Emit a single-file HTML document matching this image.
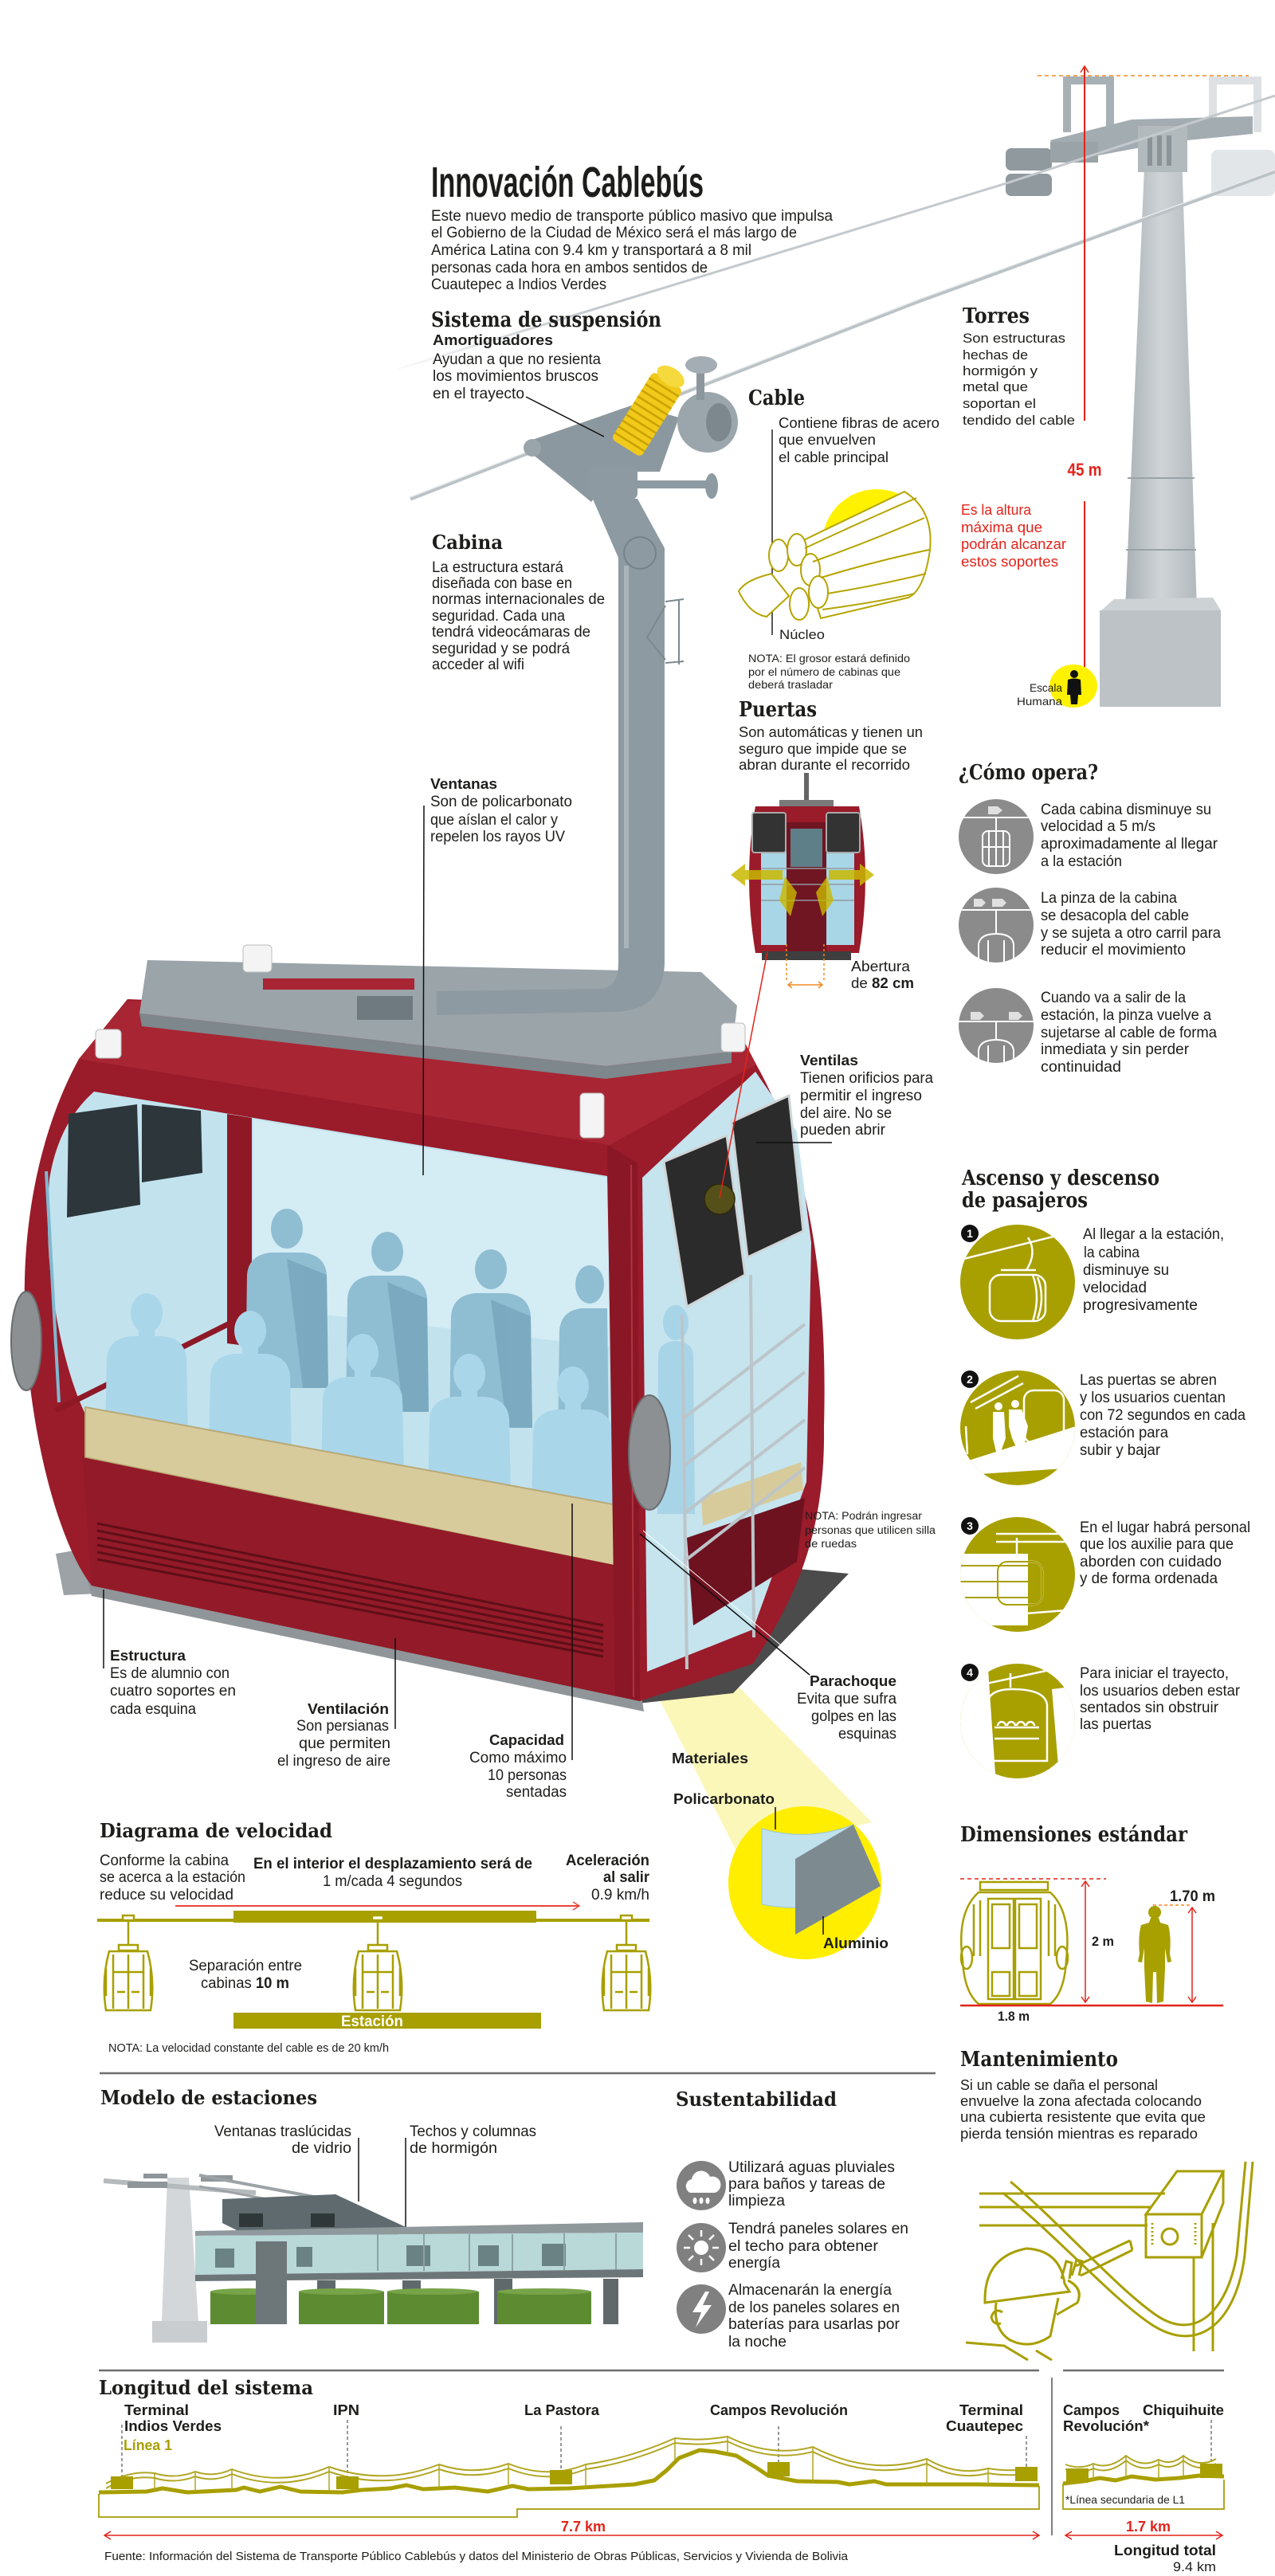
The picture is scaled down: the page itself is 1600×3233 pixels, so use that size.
<!DOCTYPE html>
<html><head><meta charset="utf-8"><style>
html,body{margin:0;padding:0;background:#fff;}
svg{display:block;}
text{font-family:"Liberation Sans","DejaVu Sans",sans-serif;fill:#1d1d1b;}
.s{font-family:"DejaVu Serif","Liberation Serif",serif;font-weight:bold;}
.b{font-weight:bold;}
.r{fill:#e2231a;}
.o{fill:#a89f00;}
</style></head><body>
<svg width="1600" height="3233" viewBox="0 0 1600 3233" xmlns="http://www.w3.org/2000/svg">
<defs>
 <linearGradient id="fa" gradientUnits="userSpaceOnUse" x1="480" y1="0" x2="720" y2="0">
  <stop offset="0" stop-color="#c3c9cc" stop-opacity="0"/><stop offset="1" stop-color="#c3c9cc"/>
 </linearGradient>
 <linearGradient id="col" x1="0" x2="1" y1="0" y2="0">
  <stop offset="0" stop-color="#a9b1b6"/><stop offset="0.5" stop-color="#cfd4d7"/><stop offset="1" stop-color="#b2b9bd"/>
 </linearGradient>
 <clipPath id="co1"><circle cx="1250" cy="1050" r="47"/></clipPath>
 <clipPath id="co2"><circle cx="1250" cy="1161" r="47"/></clipPath>
 <clipPath id="co3"><circle cx="1250" cy="1287" r="47"/></clipPath>
 <clipPath id="as1"><circle cx="1277" cy="1609" r="72"/></clipPath>
 <clipPath id="as2"><circle cx="1277" cy="1792" r="72"/></clipPath>
 <clipPath id="as3"><circle cx="1277" cy="1976" r="72"/></clipPath>
 <clipPath id="as4"><circle cx="1277" cy="2160" r="72"/></clipPath>
</defs>

<!-- ================= TOWER ================= -->
<line x1="1302" y1="95" x2="1567" y2="95" stroke="#f08a24" stroke-width="1.5" stroke-dasharray="5,4"/>
<path d="M1334,96 h64 v70 h-10 v-60 h-44 v60 h-10z" fill="#a7b0b5"/>
<path d="M1517,96 h66 v70 h-10 v-60 h-46 v60 h-10z" fill="#dde1e3"/>
<polygon points="1318,176 1420,150 1572,146 1572,168 1470,178 1330,204" fill="#a3acb1"/>
<rect x="1520" y="188" width="80" height="58" rx="8" fill="#e3e6e8"/>
<polygon points="1438,165 1482,165 1502,765 1412,765" fill="url(#col)"/>
<rect x="1428" y="158" width="62" height="58" fill="#b3babe"/>
<rect x="1440" y="170" width="6" height="38" fill="#8a9398"/>
<rect x="1452" y="170" width="6" height="38" fill="#8a9398"/>
<rect x="1464" y="170" width="6" height="38" fill="#8a9398"/>
<line x1="1415" y1="600" x2="1499" y2="600" stroke="#9aa3a8" stroke-width="2"/>
<line x1="1413" y1="690" x2="1501" y2="690" stroke="#9aa3a8" stroke-width="2"/>
<polygon points="1380,768 1398,752 1522,750 1532,766" fill="#cdd2d5"/>
<rect x="1380" y="766" width="152" height="121" fill="#bcc2c6"/>
<rect x="1262" y="186" width="58" height="28" rx="7" fill="#8f999e"/>
<rect x="1262" y="218" width="58" height="28" rx="7" fill="#8f999e"/>
<rect x="1318" y="178" width="60" height="26" fill="#9aa3a8"/>

<!-- cables -->
<path d="M500,463 L1263,230 L1600,120" fill="none" stroke="url(#fa)" stroke-width="3"/>
<path d="M515,626 L1150,379 L1600,215" fill="none" stroke="#bcc3c7" stroke-width="5"/>
<path d="M515,624 L1150,377 L1600,213" fill="none" stroke="#eef1f2" stroke-width="1.2"/>

<!-- 45 m arrow -->
<line x1="1361" y1="84" x2="1361" y2="528" stroke="#e2231a" stroke-width="2"/>
<line x1="1361" y1="629" x2="1361" y2="880" stroke="#e2231a" stroke-width="2"/>
<path d="M1356,91 L1361,83 L1366,91 M1356,873 L1361,881 L1366,873" fill="none" stroke="#e2231a" stroke-width="1.5"/>
<ellipse cx="1347" cy="861" rx="30" ry="27" fill="#fff200"/>
<circle cx="1348" cy="846" r="5" fill="#111"/>
<path d="M1340,853 Q1348,850 1356,853 L1357,872 L1353,872 L1352,884 L1344,884 L1343,872 L1339,872 Z" fill="#111"/>

<text x="1208" y="405" font-size="26" class="s" textLength="84" lengthAdjust="spacingAndGlyphs">Torres</text>
<text x="1208" y="430" font-size="17" textLength="129" lengthAdjust="spacingAndGlyphs">Son estructuras</text>
<text x="1208" y="451" font-size="17" textLength="82" lengthAdjust="spacingAndGlyphs">hechas de</text>
<text x="1208" y="471" font-size="17" textLength="94" lengthAdjust="spacingAndGlyphs">hormigón y</text>
<text x="1208" y="491" font-size="17" textLength="82" lengthAdjust="spacingAndGlyphs">metal que</text>
<text x="1208" y="512" font-size="17" textLength="92" lengthAdjust="spacingAndGlyphs">soportan el</text>
<text x="1208" y="533" font-size="17" textLength="141" lengthAdjust="spacingAndGlyphs">tendido del cable</text>
<text x="1361" y="597" font-size="22" class="b r" text-anchor="middle" textLength="43" lengthAdjust="spacingAndGlyphs">45 m</text>
<text x="1206" y="646" font-size="18" class="r" textLength="88" lengthAdjust="spacingAndGlyphs">Es la altura</text>
<text x="1206" y="668" font-size="18" class="r" textLength="102" lengthAdjust="spacingAndGlyphs">máxima que</text>
<text x="1206" y="689" font-size="18" class="r" textLength="132" lengthAdjust="spacingAndGlyphs">podrán alcanzar</text>
<text x="1206" y="711" font-size="18" class="r" textLength="122" lengthAdjust="spacingAndGlyphs">estos soportes</text>
<text x="1333" y="868" font-size="14" text-anchor="end" textLength="41" lengthAdjust="spacingAndGlyphs">Escala</text>
<text x="1333" y="885" font-size="14" text-anchor="end" textLength="57" lengthAdjust="spacingAndGlyphs">Humana</text>

<!-- ================= HEADER ================= -->
<text x="541" y="247" font-size="54" class="b" textLength="342" lengthAdjust="spacingAndGlyphs">Innovación Cablebús</text>
<text x="541" y="277" font-size="19" textLength="504" lengthAdjust="spacingAndGlyphs">Este nuevo medio de transporte público masivo que impulsa</text>
<text x="541" y="298" font-size="19" textLength="459" lengthAdjust="spacingAndGlyphs">el Gobierno de la Ciudad de México será el más largo de</text>
<text x="541" y="320" font-size="19" textLength="402" lengthAdjust="spacingAndGlyphs">América Latina con 9.4 km  y transportará a 8 mil</text>
<text x="541" y="342" font-size="19" textLength="347" lengthAdjust="spacingAndGlyphs">personas cada hora en ambos sentidos de</text>
<text x="541" y="363" font-size="19" textLength="220" lengthAdjust="spacingAndGlyphs">Cuautepec a Indios Verdes</text>

<text x="541" y="410" font-size="26" class="s" textLength="289" lengthAdjust="spacingAndGlyphs">Sistema de suspensión</text>
<text x="543" y="433" font-size="18" class="b" textLength="151" lengthAdjust="spacingAndGlyphs">Amortiguadores</text>
<text x="543" y="457" font-size="19" textLength="211" lengthAdjust="spacingAndGlyphs">Ayudan a que no resienta</text>
<text x="543" y="478" font-size="19" textLength="208" lengthAdjust="spacingAndGlyphs">los movimientos bruscos</text>
<text x="543" y="500" font-size="19" textLength="115" lengthAdjust="spacingAndGlyphs">en el trayecto</text>

<!-- ================= GRIP + ARM ================= -->
<polygon points="668,552 795,508 852,524 828,592 768,592 742,630 708,602 668,570" fill="#8c989f"/>
<circle cx="668" cy="562" r="11" fill="#9aa5ab"/>
<circle cx="888" cy="530" r="38" fill="#9ba6ac"/>
<ellipse cx="902" cy="530" rx="16" ry="24" fill="#7d888e"/>
<rect x="874" y="462" width="10" height="40" fill="#8c979d"/>
<ellipse cx="880" cy="458" rx="20" ry="11" fill="#a3adb3"/>
<g transform="translate(812,520) rotate(32)">
 <rect x="-22" y="-50" width="44" height="100" rx="6" fill="#f0c91a"/>
 <path d="M-22,-40 H22 M-22,-31 H22 M-22,-22 H22 M-22,-13 H22 M-22,-4 H22 M-22,5 H22 M-22,14 H22 M-22,23 H22 M-22,32 H22 M-22,41 H22" stroke="#c9a200" stroke-width="2.5"/>
 <ellipse cx="0" cy="-56" rx="19" ry="11" fill="#f6d93c"/>
</g>
<rect x="740" y="585" width="60" height="42" rx="8" fill="#8e9aa1"/>
<rect x="798" y="603" width="92" height="10" fill="#8e9aa1"/>
<ellipse cx="893" cy="610" rx="8" ry="16" fill="#8e9aa1"/>
<path d="M742,622 L800,626 L834,688 L834,1205 Q834,1268 772,1270 L548,1274 L548,1244 L752,1241 Q776,1240 776,1210 L776,700 Z" fill="#8e9aa1"/>
<line x1="786" y1="710" x2="786" y2="1200" stroke="#a9b4ba" stroke-width="6"/>
<circle cx="803" cy="694" r="20" fill="none" stroke="#76828a" stroke-width="2"/>
<path d="M835,755 L858,752 M835,832 L858,830 M852,752 L852,834 M835,760 L812,800 L835,828" stroke="#7d888e" stroke-width="2" fill="none"/>
<line x1="660" y1="498" x2="758" y2="548" stroke="#111" stroke-width="1.5"/>

<!-- ================= CABLE ================= -->
<text x="939" y="508" font-size="26" class="s" textLength="71" lengthAdjust="spacingAndGlyphs">Cable</text>
<text x="977" y="537" font-size="18" textLength="202" lengthAdjust="spacingAndGlyphs">Contiene fibras de acero</text>
<text x="977" y="558" font-size="18" textLength="122" lengthAdjust="spacingAndGlyphs">que envuelven</text>
<text x="977" y="580" font-size="18" textLength="138" lengthAdjust="spacingAndGlyphs">el cable principal</text>
<line x1="969" y1="539" x2="969" y2="797" stroke="#222" stroke-width="1.5"/>
<circle cx="1100" cy="682" r="68" fill="#fff200"/>
<g fill="#fff" stroke="#b5a400" stroke-width="2">
 <path d="M1000,682 L1135,617 Q1172,640 1167,690 Q1160,740 1140,750 L1030,776 Z"/>
 <path d="M927,742 Q935,728 968,720 L990,748 L962,774 Q940,770 927,742 Z"/>
 <ellipse cx="977" cy="697" rx="12" ry="20"/>
 <ellipse cx="1000" cy="690" rx="12" ry="20"/>
 <ellipse cx="1017" cy="715" rx="12" ry="20"/>
 <ellipse cx="1027" cy="743" rx="12" ry="20"/>
 <ellipse cx="1003" cy="758" rx="12" ry="20"/>
</g>
<path d="M1010,688 Q1080,655 1150,625 M1020,705 Q1090,680 1160,650 M1030,725 Q1095,705 1166,690 M1038,745 Q1100,735 1162,720 M1032,765 Q1100,756 1148,745" fill="none" stroke="#b5a400" stroke-width="2"/>
<text x="978" y="802" font-size="17" textLength="57" lengthAdjust="spacingAndGlyphs">Núcleo</text>
<text x="939" y="831" font-size="13.5" textLength="203" lengthAdjust="spacingAndGlyphs">NOTA: El grosor estará definido</text>
<text x="939" y="848" font-size="13.5" textLength="191" lengthAdjust="spacingAndGlyphs">por el número de cabinas que</text>
<text x="939" y="864" font-size="13.5" textLength="106" lengthAdjust="spacingAndGlyphs">deberá trasladar</text>

<!-- ================= PUERTAS ================= -->
<text x="927" y="899" font-size="26" class="s" textLength="98" lengthAdjust="spacingAndGlyphs">Puertas</text>
<text x="927" y="925" font-size="18" textLength="231" lengthAdjust="spacingAndGlyphs">Son automáticas y tienen un</text>
<text x="927" y="946" font-size="18" textLength="211" lengthAdjust="spacingAndGlyphs">seguro que impide que se</text>
<text x="927" y="966" font-size="18" textLength="215" lengthAdjust="spacingAndGlyphs">abran durante el recorrido</text>
<line x1="1012" y1="970" x2="1012" y2="1008" stroke="#666" stroke-width="6"/>
<rect x="978" y="1004" width="68" height="10" fill="#7a7a7a"/>
<path d="M948,1012 H1078 Q1094,1100 1078,1196 H948 Q932,1100 948,1012 Z" fill="#9a1b2a"/>
<rect x="955" y="1062" width="117" height="124" fill="#a9d6e6"/>
<rect x="987" y="1032" width="50" height="165" fill="#701522"/>
<rect x="992" y="1040" width="40" height="48" fill="#5e7f88"/>
<rect x="944" y="1020" width="42" height="50" rx="3" fill="#333" stroke="#aaa" stroke-width="2"/>
<rect x="1037" y="1020" width="42" height="50" rx="3" fill="#333" stroke="#aaa" stroke-width="2"/>
<path d="M955,1090 H1072 M955,1110 H1072 M955,1130 H1072" stroke="#8f9aa0" stroke-width="1.5"/>
<rect x="956" y="1194" width="112" height="11" fill="#3f3f3f"/>
<polygon points="917,1098 935,1084 935,1092 982,1092 982,1104 935,1104 935,1112" fill="#c9b800" opacity="0.85"/>
<polygon points="1097,1098 1079,1084 1079,1092 1040,1092 1040,1104 1079,1104 1079,1112" fill="#c9b800" opacity="0.85"/>
<polygon points="985,1100 1000,1120 992,1150 978,1130" fill="#c9b800" opacity="0.8"/>
<polygon points="1038,1100 1024,1120 1032,1150 1046,1130" fill="#c9b800" opacity="0.8"/>
<path d="M987,1185 V1232 M1034,1185 V1232" stroke="#f08a24" stroke-width="1.5" stroke-dasharray="3,3"/>
<path d="M989,1236 H1032 M994,1232 L989,1236 L994,1240 M1027,1232 L1032,1236 L1027,1240" stroke="#f08a24" stroke-width="1.5" fill="none"/>
<text x="1068" y="1219" font-size="18" textLength="74" lengthAdjust="spacingAndGlyphs">Abertura</text>
<text x="1068" y="1240" font-size="18" textLength="79" lengthAdjust="spacingAndGlyphs">de <tspan class="b">82 cm</tspan></text>

<!-- ================= CABINA TEXT ================= -->
<text x="542" y="689" font-size="24" class="s" textLength="89" lengthAdjust="spacingAndGlyphs">Cabina</text>
<text x="542" y="718" font-size="19" textLength="165" lengthAdjust="spacingAndGlyphs">La estructura estará</text>
<text x="542" y="738" font-size="19" textLength="176" lengthAdjust="spacingAndGlyphs">diseñada con base en</text>
<text x="542" y="758" font-size="19" textLength="217" lengthAdjust="spacingAndGlyphs">normas internacionales de</text>
<text x="542" y="779" font-size="19" textLength="167" lengthAdjust="spacingAndGlyphs">seguridad. Cada una</text>
<text x="542" y="799" font-size="19" textLength="199" lengthAdjust="spacingAndGlyphs">tendrá videocámaras de</text>
<text x="542" y="820" font-size="19" textLength="173" lengthAdjust="spacingAndGlyphs">seguridad y se podrá</text>
<text x="542" y="840" font-size="19" textLength="116" lengthAdjust="spacingAndGlyphs">acceder al wifi</text>
<text x="540" y="990" font-size="18" class="b" textLength="84" lengthAdjust="spacingAndGlyphs">Ventanas</text>
<text x="540" y="1012" font-size="19" textLength="178" lengthAdjust="spacingAndGlyphs">Son de policarbonato</text>
<text x="540" y="1035" font-size="19" textLength="160" lengthAdjust="spacingAndGlyphs">que aíslan el calor y</text>
<text x="540" y="1056" font-size="19" textLength="169" lengthAdjust="spacingAndGlyphs">repelen los rayos UV</text>

<!-- ================= MAIN CABIN ================= -->
<polygon points="811,2100 920,2110 1094,2287 926,2327" fill="#fbf6b0" opacity="0.9"/>
<polygon points="70,1950 150,1936 172,1998 80,2002" fill="#9ca2a5"/>
<polygon points="800,1950 1065,1975 920,2125 800,2138" fill="#4b4b4b"/>
<polygon points="110,1985 805,2128 808,2148 115,2003" fill="#8f9598"/>
<path d="M99,1329 C68,1385 34,1480 31,1606 C27,1760 68,1930 115,1990 L803,2135 L945,2088 C995,2010 1036,1930 1034,1790 C1038,1640 1024,1470 949,1336 L922,1284 L160,1254 Z" fill="#9a1b2a"/>
<polygon points="160,1256 922,1286 949,1336 765,1437 99,1329" fill="#a82533"/>
<!-- front glass -->
<path d="M118,1370 L762,1476 L770,1900 L108,1777 C80,1720 52,1600 62,1480 C70,1430 90,1395 118,1370 Z" fill="#c2e3ee"/>
<polygon points="318,1405 762,1478 765,1690 318,1640" fill="#d4ecf4"/>
<polygon points="86,1398 172,1386 176,1512 84,1528" fill="#2c363b"/>
<polygon points="178,1386 252,1394 254,1472 178,1484" fill="#2c363b"/>
<polygon points="285,1398 316,1403 316,1690 285,1686" fill="#8e1826"/>
<line x1="70" y1="1770" x2="306" y2="1652" stroke="#8e1826" stroke-width="7"/>
<line x1="58" y1="1470" x2="74" y2="1760" stroke="#7fb9cf" stroke-width="4"/>
<!-- back row passengers -->
<g fill="#8fbdd2">
 <path d="M308,1742 L310,1600 Q312,1575 340,1572 L380,1572 Q408,1575 410,1600 L412,1742 Z"/>
 <ellipse cx="360" cy="1542" rx="20" ry="25"/>
 <path d="M434,1772 L436,1630 Q438,1604 466,1601 L506,1601 Q534,1604 536,1630 L538,1772 Z"/>
 <ellipse cx="486" cy="1571" rx="20" ry="25"/>
 <path d="M564,1792 L566,1652 Q568,1626 596,1623 L636,1623 Q664,1626 666,1652 L668,1792 Z"/>
 <ellipse cx="616" cy="1593" rx="20" ry="25"/>
 <path d="M700,1810 L702,1670 Q704,1645 730,1642 L762,1642 L764,1810 Z"/>
 <ellipse cx="740" cy="1612" rx="18" ry="24"/>
</g>
<g fill="#6f9fb5" opacity="0.6">
 <path d="M360,1580 L410,1600 L412,1742 L380,1742 Z"/>
 <path d="M486,1609 L536,1630 L538,1772 L506,1772 Z"/>
 <path d="M616,1631 L666,1652 L668,1792 L636,1792 Z"/>
</g>
<!-- front row passengers -->
<g fill="#aad6ea">
 <path d="M132,1800 L134,1705 Q136,1680 164,1677 L204,1677 Q232,1680 234,1705 L236,1800 Z"/>
 <rect x="174" y="1662" width="20" height="18"/>
 <ellipse cx="184" cy="1648" rx="20" ry="25"/>
 <path d="M262,1822 L264,1727 Q266,1702 294,1699 L334,1699 Q362,1702 364,1727 L366,1822 Z"/>
 <rect x="304" y="1684" width="20" height="18"/>
 <ellipse cx="314" cy="1670" rx="20" ry="25"/>
 <path d="M403,1850 L405,1756 Q407,1731 435,1728 L475,1728 Q503,1731 505,1756 L507,1850 Z"/>
 <rect x="445" y="1713" width="20" height="18"/>
 <ellipse cx="455" cy="1699" rx="20" ry="25"/>
 <path d="M537,1876 L539,1781 Q541,1756 569,1753 L609,1753 Q637,1756 639,1781 L641,1876 Z"/>
 <rect x="579" y="1738" width="20" height="18"/>
 <ellipse cx="589" cy="1724" rx="20" ry="25"/>
 <path d="M667,1896 L669,1797 Q671,1772 699,1769 L739,1769 Q767,1772 769,1797 L771,1896 Z"/>
 <rect x="709" y="1754" width="20" height="18"/>
 <ellipse cx="719" cy="1740" rx="20" ry="25"/>
</g>
<!-- bench -->
<polygon points="107,1766 796,1893 796,1970 107,1829" fill="#d8cb9b" stroke="#b9a977" stroke-width="2"/>
<!-- lower red panel -->
<polygon points="104,1829 800,1970 803,2135 115,1990" fill="#931a28"/>
<g stroke="#5e0f18" stroke-width="3">
 <line x1="122" y1="1912" x2="757" y2="2040"/>
 <line x1="122" y1="1921" x2="757" y2="2048"/>
 <line x1="122" y1="1930" x2="757" y2="2056"/>
 <line x1="122" y1="1939" x2="757" y2="2064"/>
 <line x1="122" y1="1948" x2="757" y2="2072"/>
 <line x1="122" y1="1957" x2="757" y2="2079"/>
</g>
<polygon points="762,1437 800,1460 803,2135 772,2128" fill="#8a1725"/>
<line x1="792" y1="1462" x2="795" y2="2130" stroke="#b3323f" stroke-width="2"/>
<!-- right end -->
<polygon points="806,1478 948,1345 1000,1420 1018,1560 1012,1860 945,2045 812,2098" fill="#c5e4ee"/>
<polygon points="862,1930 1010,1880 1000,1960 870,2040" fill="#6e1220"/>
<polygon points="880,1880 1005,1835 1008,1870 882,1915" fill="#d8cb9b"/>
<ellipse cx="848" cy="1660" rx="16" ry="22" fill="#a8d4e8"/>
<path d="M825,1900 L826,1700 Q828,1684 848,1683 Q868,1684 870,1700 L872,1900 Z" fill="#a8d4e8"/>
<polygon points="833,1458 912,1425 935,1600 862,1640" fill="#2b2b2b" stroke="#cfd4d6" stroke-width="3"/>
<polygon points="918,1408 990,1375 1008,1545 938,1578" fill="#2b2b2b" stroke="#cfd4d6" stroke-width="3"/>
<g stroke="#bcc5c9" stroke-width="4" fill="none">
 <line x1="858" y1="1960" x2="1010" y2="1842"/>
 <line x1="858" y1="1900" x2="1010" y2="1782"/>
 <line x1="858" y1="1840" x2="1010" y2="1722"/>
 <line x1="858" y1="1780" x2="1010" y2="1662"/>
 <line x1="856" y1="1650" x2="862" y2="2095"/>
 <line x1="942" y1="1600" x2="946" y2="2055"/>
</g>
<circle cx="903" cy="1505" r="19" fill="#55501a" stroke="#2d2a0c" stroke-width="1.5"/>
<ellipse cx="815" cy="1823" rx="26" ry="72" fill="#8d9092" stroke="#6a6d6f" stroke-width="2"/>
<ellipse cx="33" cy="1683" rx="19" ry="62" fill="#8d9092" stroke="#6a6d6f" stroke-width="2"/>
<!-- roof -->
<polygon points="185,1205 880,1220 925,1262 918,1320 760,1338 175,1272" fill="#9aa4a9"/>
<polygon points="175,1272 760,1338 918,1320 918,1334 760,1354 178,1288" fill="#7d878c"/>
<rect x="330" y="1228" width="190" height="14" fill="#a82533"/>
<rect x="448" y="1250" width="70" height="30" fill="#6f7a80"/>
<rect x="120" y="1292" width="32" height="36" rx="5" fill="#f4f4f4" stroke="#bdbdbd"/>
<rect x="305" y="1186" width="36" height="34" rx="5" fill="#f4f4f4" stroke="#bdbdbd"/>
<rect x="905" y="1284" width="30" height="36" rx="5" fill="#f4f4f4" stroke="#bdbdbd"/>
<rect x="728" y="1372" width="30" height="56" rx="5" fill="#f4f4f4" stroke="#bdbdbd"/>
<!-- arm over roof (redraw horizontal part) -->
<path d="M834,1190 L834,1205 Q834,1268 772,1270 L548,1274 L548,1244 L752,1241 Q776,1240 776,1210 L776,1190 Z" fill="#8e9aa1"/>

<!-- leader lines cabin -->
<line x1="532" y1="1011" x2="531" y2="1475" stroke="#111" stroke-width="1.5"/>
<line x1="963" y1="1195" x2="903" y2="1504" stroke="#e2231a" stroke-width="1.5"/>
<line x1="949" y1="1434" x2="1044" y2="1434" stroke="#111" stroke-width="1.5"/>
<line x1="718" y1="1887" x2="718" y2="2209" stroke="#111" stroke-width="1.5"/>
<line x1="496" y1="2056" x2="496" y2="2170" stroke="#111" stroke-width="1.5"/>
<line x1="130" y1="1995" x2="130" y2="2094" stroke="#111" stroke-width="1.5"/>
<line x1="803" y1="1925" x2="1016" y2="2102" stroke="#111" stroke-width="1.5"/>
<line x1="807" y1="1921" x2="1020" y2="2098" stroke="#fff" stroke-width="1"/>

<text x="1004" y="1337" font-size="18" class="b" textLength="73" lengthAdjust="spacingAndGlyphs">Ventilas</text>
<text x="1004" y="1359" font-size="19" textLength="167" lengthAdjust="spacingAndGlyphs">Tienen orificios para</text>
<text x="1004" y="1381" font-size="19" textLength="153" lengthAdjust="spacingAndGlyphs">permitir el ingreso</text>
<text x="1004" y="1403" font-size="19" textLength="115" lengthAdjust="spacingAndGlyphs">del aire. No se</text>
<text x="1004" y="1424" font-size="19" textLength="107" lengthAdjust="spacingAndGlyphs">pueden abrir</text>
<text x="1010" y="1907" font-size="13.5" textLength="147" lengthAdjust="spacingAndGlyphs">NOTA: Podrán ingresar</text>
<text x="1010" y="1925" font-size="13.5" textLength="164" lengthAdjust="spacingAndGlyphs">personas que utilicen silla</text>
<text x="1010" y="1942" font-size="13.5" textLength="65" lengthAdjust="spacingAndGlyphs">de ruedas</text>

<text x="138" y="2084" font-size="18" class="b" textLength="95" lengthAdjust="spacingAndGlyphs">Estructura</text>
<text x="138" y="2106" font-size="19" textLength="150" lengthAdjust="spacingAndGlyphs">Es de alumnio con</text>
<text x="138" y="2128" font-size="19" textLength="158" lengthAdjust="spacingAndGlyphs">cuatro soportes en</text>
<text x="138" y="2151" font-size="19" textLength="108" lengthAdjust="spacingAndGlyphs">cada esquina</text>
<text x="488" y="2151" font-size="18" class="b" text-anchor="end" textLength="102" lengthAdjust="spacingAndGlyphs">Ventilación</text>
<text x="488" y="2172" font-size="19" text-anchor="end" textLength="116" lengthAdjust="spacingAndGlyphs">Son persianas</text>
<text x="490" y="2194" font-size="19" text-anchor="end" textLength="115" lengthAdjust="spacingAndGlyphs">que permiten</text>
<text x="490" y="2216" font-size="19" text-anchor="end" textLength="142" lengthAdjust="spacingAndGlyphs">el ingreso de aire</text>
<text x="708" y="2190" font-size="18" class="b" text-anchor="end" textLength="94" lengthAdjust="spacingAndGlyphs">Capacidad</text>
<text x="711" y="2212" font-size="19" text-anchor="end" textLength="122" lengthAdjust="spacingAndGlyphs">Como máximo</text>
<text x="711" y="2234" font-size="19" text-anchor="end" textLength="99" lengthAdjust="spacingAndGlyphs">10 personas</text>
<text x="711" y="2255" font-size="19" text-anchor="end" textLength="76" lengthAdjust="spacingAndGlyphs">sentadas</text>
<text x="1125" y="2116" font-size="18" class="b" text-anchor="end" textLength="109" lengthAdjust="spacingAndGlyphs">Parachoque</text>
<text x="1125" y="2138" font-size="19" text-anchor="end" textLength="125" lengthAdjust="spacingAndGlyphs">Evita que sufra</text>
<text x="1125" y="2160" font-size="19" text-anchor="end" textLength="107" lengthAdjust="spacingAndGlyphs">golpes en las</text>
<text x="1125" y="2182" font-size="19" text-anchor="end" textLength="73" lengthAdjust="spacingAndGlyphs">esquinas</text>

<!-- materiales -->
<circle cx="1010" cy="2363" r="96" fill="#ffee00"/>
<path d="M956,2295 Q1013,2312 1071,2290 L1071,2380 Q1013,2402 956,2390 Z" fill="#bfe2ec" stroke="#9cc7d4" stroke-width="1"/>
<polygon points="998,2333 1071,2290 1105,2367 998,2428" fill="#7d8a90"/>
<text x="843" y="2213" font-size="18" class="b" textLength="96" lengthAdjust="spacingAndGlyphs">Materiales</text>
<text x="845" y="2264" font-size="18" class="b" textLength="127" lengthAdjust="spacingAndGlyphs">Policarbonato</text>
<line x1="973" y1="2268" x2="973" y2="2296" stroke="#111" stroke-width="1.5"/>
<line x1="1033" y1="2405" x2="1033" y2="2428" stroke="#111" stroke-width="1.5"/>
<text x="1033" y="2445" font-size="18" class="b" textLength="82" lengthAdjust="spacingAndGlyphs">Aluminio</text>

<!-- ================= COMO OPERA ================= -->
<text x="1203" y="978" font-size="26" class="s" textLength="175" lengthAdjust="spacingAndGlyphs">¿Cómo opera?</text>
<circle cx="1250" cy="1050" r="47" fill="#8b8b8b"/>
<g clip-path="url(#co1)" stroke="#fff" fill="none" stroke-width="2">
 <line x1="1200" y1="1026" x2="1300" y2="1026"/>
 <line x1="1250" y1="1026" x2="1250" y2="1042"/>
 <rect x="1233" y="1043" width="34" height="44" rx="7"/>
 <path d="M1241,1043 V1087 M1259,1043 V1087 M1250,1043 V1087 M1233,1063 H1267"/>
</g>
<polygon points="1240,1012 1252,1012 1258,1017 1252,1022 1240,1022" fill="#e0e0e0"/>
<circle cx="1250" cy="1161" r="47" fill="#8b8b8b"/>
<g clip-path="url(#co2)" stroke="#fff" fill="none" stroke-width="2">
 <line x1="1200" y1="1142" x2="1300" y2="1142"/>
 <line x1="1250" y1="1142" x2="1250" y2="1172"/>
 <path d="M1228,1215 V1185 Q1230,1172 1250,1172 Q1270,1172 1272,1185 V1215"/>
 <path d="M1240,1180 V1215 M1260,1180 V1215"/>
</g>
<polygon points="1222,1128 1232,1128 1237,1133 1232,1138 1222,1138" fill="#e0e0e0"/>
<polygon points="1245,1128 1258,1128 1263,1133 1258,1138 1245,1138" fill="#e0e0e0"/>
<circle cx="1250" cy="1287" r="47" fill="#8b8b8b"/>
<g clip-path="url(#co3)" stroke="#fff" fill="none" stroke-width="2">
 <line x1="1200" y1="1282" x2="1300" y2="1282"/>
 <line x1="1250" y1="1282" x2="1250" y2="1305"/>
 <path d="M1228,1340 V1318 Q1230,1305 1250,1305 Q1270,1305 1272,1318 V1340"/>
 <path d="M1240,1312 V1340 M1260,1312 V1340"/>
</g>
<polygon points="1218,1270 1230,1270 1235,1275 1230,1280 1218,1280" fill="#e0e0e0"/>
<polygon points="1266,1270 1278,1270 1283,1275 1278,1280 1266,1280" fill="#e0e0e0"/>
<text x="1306" y="1022" font-size="19" textLength="214" lengthAdjust="spacingAndGlyphs">Cada cabina disminuye su</text>
<text x="1306" y="1043" font-size="19" textLength="144" lengthAdjust="spacingAndGlyphs">velocidad a 5 m/s</text>
<text x="1306" y="1065" font-size="19" textLength="222" lengthAdjust="spacingAndGlyphs">aproximadamente al llegar</text>
<text x="1306" y="1087" font-size="19" textLength="102" lengthAdjust="spacingAndGlyphs">a la estación</text>
<text x="1306" y="1133" font-size="19" textLength="171" lengthAdjust="spacingAndGlyphs">La pinza de la cabina</text>
<text x="1306" y="1155" font-size="19" textLength="186" lengthAdjust="spacingAndGlyphs">se desacopla del cable</text>
<text x="1306" y="1177" font-size="19" textLength="226" lengthAdjust="spacingAndGlyphs">y se sujeta a otro carril para</text>
<text x="1306" y="1198" font-size="19" textLength="182" lengthAdjust="spacingAndGlyphs">reducir el movimiento</text>
<text x="1306" y="1258" font-size="19" textLength="182" lengthAdjust="spacingAndGlyphs">Cuando va a salir de la</text>
<text x="1306" y="1280" font-size="19" textLength="214" lengthAdjust="spacingAndGlyphs">estación, la pinza vuelve a</text>
<text x="1306" y="1302" font-size="19" textLength="221" lengthAdjust="spacingAndGlyphs">sujetarse al cable de forma</text>
<text x="1306" y="1323" font-size="19" textLength="186" lengthAdjust="spacingAndGlyphs">inmediata y sin perder</text>
<text x="1306" y="1345" font-size="19" textLength="101" lengthAdjust="spacingAndGlyphs">continuidad</text>

<!-- ================= ASCENSO ================= -->
<text x="1207" y="1487" font-size="26" class="s" textLength="248" lengthAdjust="spacingAndGlyphs">Ascenso y descenso</text>
<text x="1207" y="1515" font-size="26" class="s" textLength="158" lengthAdjust="spacingAndGlyphs">de pasajeros</text>
<circle cx="1277" cy="1609" r="72" fill="#a89f00"/>
<g clip-path="url(#as1)" stroke="#fff" fill="none" stroke-width="2.5">
 <line x1="1205" y1="1581" x2="1350" y2="1545"/>
 <path d="M1290,1553 Q1302,1572 1288,1594"/>
 <rect x="1242" y="1600" width="70" height="58" rx="14"/>
 <path d="M1296,1600 Q1306,1628 1296,1658 M1302,1603 Q1312,1628 1302,1655 M1256,1594 H1300"/>
</g>
<circle cx="1277" cy="1792" r="72" fill="#a89f00"/>
<g clip-path="url(#as2)">
 <polygon points="1200,1838 1350,1790 1350,1842 1200,1852" fill="#fff"/>
 <g stroke="#fff" fill="none" stroke-width="2.5">
  <line x1="1218" y1="1760" x2="1278" y2="1727"/>
  <line x1="1224" y1="1768" x2="1284" y2="1736"/>
  <rect x="1285" y="1745" width="50" height="66" rx="12"/>
  <line x1="1212" y1="1790" x2="1214" y2="1825"/>
 </g>
 <g fill="#fff">
  <circle cx="1253" cy="1765" r="5"/><path d="M1246,1772 H1260 L1262,1805 L1256,1822 L1250,1822 L1246,1805 Z"/>
  <circle cx="1274" cy="1762" r="5"/><path d="M1266,1769 H1282 L1290,1790 L1284,1822 L1278,1822 L1270,1805 L1266,1790 Z"/>
 </g>
</g>
<circle cx="1277" cy="1976" r="72" fill="#a89f00"/>
<g clip-path="url(#as3)">
 <polygon points="1200,1950 1290,1950 1290,2040 1200,2040" fill="#fff"/>
 <g stroke="#fff" fill="none" stroke-width="2.5">
  <line x1="1250" y1="1925" x2="1360" y2="1925"/>
  <line x1="1250" y1="1935" x2="1360" y2="1935"/>
  <path d="M1276,1930 V1960"/>
  <rect x="1252" y="1960" width="56" height="54" rx="12"/>
  <line x1="1200" y1="2032" x2="1350" y2="2020"/>
 </g>
 <g stroke="#a89f00" fill="none" stroke-width="2">
  <line x1="1200" y1="1965" x2="1290" y2="1965"/>
  <line x1="1200" y1="1985" x2="1290" y2="1985"/>
  <line x1="1200" y1="2005" x2="1290" y2="2005"/>
  <rect x="1252" y="1960" width="56" height="54" rx="12"/>
 </g>
</g>
<circle cx="1277" cy="2160" r="72" fill="#a89f00"/>
<g clip-path="url(#as4)">
 <polygon points="1200,2100 1240,2095 1250,2240 1200,2240" fill="#fff"/>
 <polygon points="1320,2120 1360,2115 1360,2240 1330,2240" fill="#fff"/>
 <g stroke="#fff" fill="none" stroke-width="2.5">
  <line x1="1205" y1="2120" x2="1345" y2="2090"/>
  <line x1="1268" y1="2100" x2="1268" y2="2118"/>
  <path d="M1238,2210 V2140 Q1240,2120 1270,2120 Q1312,2120 1314,2140 V2210 Z"/>
  <path d="M1248,2168 H1304 M1248,2182 H1304"/>
  <path d="M1252,2166 a5,5 0 0 1 10,0 M1264,2166 a5,5 0 0 1 10,0 M1276,2166 a5,5 0 0 1 10,0 M1288,2166 a5,5 0 0 1 10,0"/>
 </g>
</g>
<g font-size="14" class="b">
 <circle cx="1217" cy="1548" r="11" fill="#111"/><text x="1217" y="1553" text-anchor="middle" fill="#fff" style="fill:#fff" font-size="14" class="b">1</text>
 <circle cx="1217" cy="1731" r="11" fill="#111"/><text x="1217" y="1736" text-anchor="middle" style="fill:#fff" font-size="14" class="b">2</text>
 <circle cx="1217" cy="1915" r="11" fill="#111"/><text x="1217" y="1920" text-anchor="middle" style="fill:#fff" font-size="14" class="b">3</text>
 <circle cx="1217" cy="2099" r="11" fill="#111"/><text x="1217" y="2104" text-anchor="middle" style="fill:#fff" font-size="14" class="b">4</text>
</g>
<text x="1359" y="1555" font-size="19" textLength="177" lengthAdjust="spacingAndGlyphs">Al llegar a la estación,</text>
<text x="1360" y="1578" font-size="19" textLength="70" lengthAdjust="spacingAndGlyphs">la cabina</text>
<text x="1359" y="1600" font-size="19" textLength="108" lengthAdjust="spacingAndGlyphs">disminuye su</text>
<text x="1359" y="1622" font-size="19" textLength="80" lengthAdjust="spacingAndGlyphs">velocidad</text>
<text x="1359" y="1644" font-size="19" textLength="144" lengthAdjust="spacingAndGlyphs">progresivamente</text>
<text x="1355" y="1738" font-size="19" textLength="172" lengthAdjust="spacingAndGlyphs">Las puertas se abren</text>
<text x="1355" y="1760" font-size="19" textLength="183" lengthAdjust="spacingAndGlyphs">y los usuarios cuentan</text>
<text x="1355" y="1782" font-size="19" textLength="208" lengthAdjust="spacingAndGlyphs">con 72 segundos en cada</text>
<text x="1355" y="1804" font-size="19" textLength="111" lengthAdjust="spacingAndGlyphs">estación para</text>
<text x="1355" y="1826" font-size="19" textLength="101" lengthAdjust="spacingAndGlyphs">subir y bajar</text>
<text x="1355" y="1923" font-size="19" textLength="214" lengthAdjust="spacingAndGlyphs">En el lugar habrá personal</text>
<text x="1355" y="1944" font-size="19" textLength="193" lengthAdjust="spacingAndGlyphs">que los auxilie para que</text>
<text x="1355" y="1966" font-size="19" textLength="178" lengthAdjust="spacingAndGlyphs">aborden con cuidado</text>
<text x="1355" y="1987" font-size="19" textLength="173" lengthAdjust="spacingAndGlyphs">y de forma ordenada</text>
<text x="1355" y="2106" font-size="19" textLength="187" lengthAdjust="spacingAndGlyphs">Para iniciar el trayecto,</text>
<text x="1355" y="2128" font-size="19" textLength="201" lengthAdjust="spacingAndGlyphs">los usuarios deben estar</text>
<text x="1355" y="2149" font-size="19" textLength="174" lengthAdjust="spacingAndGlyphs">sentados sin obstruir</text>
<text x="1355" y="2170" font-size="19" textLength="90" lengthAdjust="spacingAndGlyphs">las puertas</text>

<!-- ================= DIAGRAMA DE VELOCIDAD ================= -->
<text x="125" y="2306" font-size="24" class="s" textLength="292" lengthAdjust="spacingAndGlyphs">Diagrama de velocidad</text>
<text x="125" y="2341" font-size="19" textLength="162" lengthAdjust="spacingAndGlyphs">Conforme la cabina</text>
<text x="125" y="2362" font-size="19" textLength="183" lengthAdjust="spacingAndGlyphs">se acerca a la estación</text>
<text x="125" y="2384" font-size="19" textLength="168" lengthAdjust="spacingAndGlyphs">reduce su velocidad</text>
<text x="318" y="2345" font-size="19" class="b" textLength="350" lengthAdjust="spacingAndGlyphs">En el interior el desplazamiento será de</text>
<text x="405" y="2367" font-size="19" textLength="175" lengthAdjust="spacingAndGlyphs">1 m/cada 4 segundos</text>
<text x="815" y="2341" font-size="19" class="b" text-anchor="end" textLength="105" lengthAdjust="spacingAndGlyphs">Aceleración</text>
<text x="815" y="2362" font-size="19" class="b" text-anchor="end" textLength="58" lengthAdjust="spacingAndGlyphs">al salir</text>
<text x="815" y="2384" font-size="19" text-anchor="end" textLength="73" lengthAdjust="spacingAndGlyphs">0.9 km/h</text>
<line x1="220" y1="2392" x2="726" y2="2392" stroke="#e8463b" stroke-width="2"/>
<path d="M719,2387 L727,2392 L719,2397" fill="none" stroke="#e8463b" stroke-width="1.5"/>
<rect x="293" y="2398" width="380" height="15" fill="#a89f00"/>
<line x1="122" y1="2410" x2="815" y2="2410" stroke="#a89f00" stroke-width="4"/>
<g fill="none" stroke="#a89f00" stroke-width="2.5">
 <g transform="translate(161,0)">
  <rect x="-7" y="2404" width="14" height="6" fill="#fff"/><line x1="0" y1="2412" x2="0" y2="2441"/>
  <rect x="-12" y="2441" width="24" height="7"/>
  <path d="M-24,2449 H24 Q34,2485 28,2523 H-28 Q-34,2485 -24,2449 Z"/>
  <path d="M-19,2453 V2521 M19,2453 V2521 M0,2453 V2521 M-19,2475 H19 M-14,2500 h10 M4,2500 h10 M-28,2470 V2505 M28,2470 V2505"/>
 </g>
 <g transform="translate(474,0)">
  <rect x="-7" y="2404" width="14" height="6" fill="#fff"/><line x1="0" y1="2412" x2="0" y2="2441"/>
  <rect x="-12" y="2441" width="24" height="7"/>
  <path d="M-24,2449 H24 Q34,2485 28,2523 H-28 Q-34,2485 -24,2449 Z"/>
  <path d="M-19,2453 V2521 M19,2453 V2521 M0,2453 V2521 M-19,2475 H19 M-14,2500 h10 M4,2500 h10 M-28,2470 V2505 M28,2470 V2505"/>
 </g>
 <g transform="translate(786,0)">
  <rect x="-7" y="2404" width="14" height="6" fill="#fff"/><line x1="0" y1="2412" x2="0" y2="2441"/>
  <rect x="-12" y="2441" width="24" height="7"/>
  <path d="M-24,2449 H24 Q34,2485 28,2523 H-28 Q-34,2485 -24,2449 Z"/>
  <path d="M-19,2453 V2521 M19,2453 V2521 M0,2453 V2521 M-19,2475 H19 M-14,2500 h10 M4,2500 h10 M-28,2470 V2505 M28,2470 V2505"/>
 </g>
</g>
<text x="237" y="2473" font-size="19" textLength="142" lengthAdjust="spacingAndGlyphs">Separación entre</text>
<text x="252" y="2495" font-size="19" textLength="111" lengthAdjust="spacingAndGlyphs">cabinas <tspan class="b">10 m</tspan></text>
<rect x="293" y="2526" width="386" height="20" fill="#a89f00"/>
<text x="467" y="2543" font-size="19" class="b" text-anchor="middle" style="fill:#fff" textLength="78" lengthAdjust="spacingAndGlyphs">Estación</text>
<text x="136" y="2575" font-size="15" textLength="352" lengthAdjust="spacingAndGlyphs">NOTA: La velocidad constante del cable es de 20 km/h</text>

<!-- ================= DIMENSIONES ================= -->
<text x="1205" y="2311" font-size="26" class="s" textLength="285" lengthAdjust="spacingAndGlyphs">Dimensiones estándar</text>
<line x1="1205" y1="2358" x2="1388" y2="2358" stroke="#e2231a" stroke-width="1.5" stroke-dasharray="5,4"/>
<g fill="none" stroke="#a89f00" stroke-width="2.5">
 <rect x="1230" y="2362" width="85" height="10"/>
 <path d="M1228,2375 H1318 Q1345,2400 1338,2460 Q1336,2500 1318,2515 H1228 Q1210,2500 1208,2460 Q1200,2400 1228,2375 Z"/>
 <rect x="1240" y="2383" width="32" height="126"/><rect x="1274" y="2383" width="32" height="126"/>
 <rect x="1245" y="2390" width="22" height="55"/><rect x="1279" y="2390" width="22" height="55"/>
 <rect x="1245" y="2475" width="22" height="30"/><rect x="1279" y="2475" width="22" height="30"/>
 <path d="M1222,2390 V2455 M1230,2385 V2455 M1324,2390 V2455 M1316,2385 V2455"/>
 <ellipse cx="1213" cy="2457" rx="7" ry="14"/><ellipse cx="1333" cy="2457" rx="7" ry="14"/>
</g>
<line x1="1362" y1="2362" x2="1362" y2="2512" stroke="#e2231a" stroke-width="1.5"/>
<path d="M1357,2368 L1362,2361 L1367,2368 M1357,2506 L1362,2513 L1367,2506" fill="none" stroke="#e2231a" stroke-width="1.5"/>
<text x="1370" y="2442" font-size="17" class="b" textLength="28" lengthAdjust="spacingAndGlyphs">2 m</text>
<line x1="1447" y1="2391" x2="1495" y2="2391" stroke="#f08a24" stroke-width="1.5" stroke-dasharray="4,3"/>
<text x="1468" y="2386" font-size="19" class="b" textLength="57" lengthAdjust="spacingAndGlyphs">1.70 m</text>
<line x1="1496" y1="2395" x2="1496" y2="2512" stroke="#e2231a" stroke-width="1.5"/>
<path d="M1491,2401 L1496,2394 L1501,2401 M1491,2506 L1496,2513 L1501,2506" fill="none" stroke="#e2231a" stroke-width="1.5"/>
<g fill="#a89f00">
 <circle cx="1449" cy="2400" r="8"/>
 <path d="M1444,2407 H1454 L1456,2413 L1466,2416 Q1470,2430 1468,2452 L1470,2462 L1465,2463 L1462,2445 L1462,2470 L1460,2512 L1452,2514 L1451,2475 L1447,2475 L1446,2514 L1438,2512 L1436,2470 L1436,2445 L1433,2463 L1428,2462 L1430,2452 Q1428,2430 1432,2416 L1442,2413 Z"/>
</g>
<line x1="1205" y1="2517" x2="1535" y2="2517" stroke="#e2231a" stroke-width="2.5"/>
<text x="1252" y="2536" font-size="17" class="b" textLength="40" lengthAdjust="spacingAndGlyphs">1.8 m</text>

<!-- ================= MANTENIMIENTO ================= -->
<text x="1205" y="2593" font-size="26" class="s" textLength="198" lengthAdjust="spacingAndGlyphs">Mantenimiento</text>
<text x="1205" y="2623" font-size="18" textLength="248" lengthAdjust="spacingAndGlyphs">Si un cable se daña el personal</text>
<text x="1205" y="2643" font-size="18" textLength="303" lengthAdjust="spacingAndGlyphs">envuelve la zona afectada colocando</text>
<text x="1205" y="2663" font-size="18" textLength="308" lengthAdjust="spacingAndGlyphs">una cubierta resistente que evita que</text>
<text x="1205" y="2684" font-size="18" textLength="298" lengthAdjust="spacingAndGlyphs">pierda tensión mientras es reparado</text>
<g fill="none" stroke="#a89f00" stroke-width="3">
 <line x1="1229" y1="2753" x2="1462" y2="2753"/>
 <line x1="1229" y1="2770" x2="1445" y2="2770"/>
 <line x1="1229" y1="2793" x2="1440" y2="2793"/>
 <path d="M1438,2779 L1477,2725 L1535,2725 L1508,2779 Z M1438,2779 V2833 H1508 V2779 M1508,2833 L1535,2765 V2725"/>
 <circle cx="1468" cy="2807" r="10"/>
 <path d="M1446,2790 v30 M1500,2790 v30" stroke-dasharray="2,3"/>
 <path d="M1498,2833 V2951 M1522,2790 V2951"/>
 <path d="M1268,2738 C1330,2790 1400,2870 1450,2905 C1500,2940 1540,2900 1552,2830 L1563,2713"/>
 <path d="M1258,2752 C1322,2802 1393,2882 1443,2916 C1505,2958 1552,2912 1562,2830 L1572,2713"/>
 <path d="M1418,2812 L1350,2844 M1421,2824 L1356,2856 M1418,2812 L1421,2824"/>
 <path d="M1236,2886 Q1236,2832 1288,2822 Q1330,2824 1336,2866 L1342,2876 L1236,2890 Z"/>
 <path d="M1250,2890 Q1246,2922 1266,2936 Q1292,2950 1318,2932 L1328,2884"/>
 <path d="M1258,2902 q-10,-6 -14,6 q2,10 12,8"/>
 <path d="M1212,2940 L1260,2944 L1290,2962 M1300,2950 L1320,2962"/>
 <path d="M1332,2860 l6,-22 l7,2 l-3,20 M1345,2856 l6,-20 l7,2 l-4,18 M1340,2862 Q1360,2872 1352,2890 L1326,2905"/>
</g>

<!-- ================= RULES ================= -->
<line x1="125" y1="2602" x2="1174" y2="2602" stroke="#6d6d6d" stroke-width="2.5"/>
<line x1="124" y1="2975" x2="1304" y2="2975" stroke="#6d6d6d" stroke-width="2.5"/>
<line x1="1334" y1="2975" x2="1536" y2="2975" stroke="#6d6d6d" stroke-width="2.5"/>
<line x1="1320" y1="2984" x2="1320" y2="3182" stroke="#555" stroke-width="1.5"/>

<!-- ================= MODELO DE ESTACIONES ================= -->
<text x="126" y="2641" font-size="24" class="s" textLength="272" lengthAdjust="spacingAndGlyphs">Modelo de estaciones</text>
<text x="441" y="2681" font-size="19" text-anchor="end" textLength="172" lengthAdjust="spacingAndGlyphs">Ventanas traslúcidas</text>
<text x="441" y="2702" font-size="19" text-anchor="end" textLength="75" lengthAdjust="spacingAndGlyphs">de vidrio</text>
<text x="514" y="2681" font-size="19" textLength="159" lengthAdjust="spacingAndGlyphs">Techos y columnas</text>
<text x="514" y="2702" font-size="19" textLength="110" lengthAdjust="spacingAndGlyphs">de hormigón</text>
<line x1="450" y1="2683" x2="450" y2="2763" stroke="#111" stroke-width="1.5"/>
<line x1="509" y1="2683" x2="509" y2="2803" stroke="#111" stroke-width="1.5"/>
<polygon points="210,2733 237,2733 249,2913 203,2913" fill="#d3d7d9"/>
<rect x="191" y="2913" width="69" height="27" fill="#c9cdd0"/>
<line x1="130" y1="2737" x2="321" y2="2752" stroke="#b5babd" stroke-width="6"/>
<rect x="160" y="2738" width="50" height="8" fill="#8f9699"/>
<rect x="180" y="2728" width="30" height="6" fill="#8f9699"/>
<rect x="252" y="2730" width="40" height="8" fill="#8f9699"/>
<line x1="250" y1="2730" x2="420" y2="2762" stroke="#9ca3a6" stroke-width="4"/>
<line x1="250" y1="2744" x2="430" y2="2778" stroke="#9ca3a6" stroke-width="3"/>
<polygon points="279,2760 421,2754 509,2795 509,2802 459,2815 329,2815 279,2790" fill="#5e6a6e"/>
<polygon points="300,2778 330,2778 330,2795 300,2795" fill="#2f3739"/>
<polygon points="390,2778 420,2778 420,2795 390,2795" fill="#2f3739"/>
<polygon points="245,2800 807,2789 807,2802 245,2806" fill="#8f989b"/>
<polygon points="245,2806 807,2802 807,2848 245,2855" fill="#b9d8d8"/>
<g fill="#6b8284">
 <rect x="270" y="2822" width="24" height="24"/><rect x="372" y="2820" width="20" height="25"/>
 <rect x="510" y="2818" width="30" height="26"/><rect x="600" y="2818" width="26" height="26"/>
 <rect x="680" y="2816" width="30" height="28"/>
</g>
<path d="M474,2804 V2850 M532,2804 V2850 M589,2804 V2850 M643,2804 V2850 M708,2803 V2849 M773,2803 V2849" stroke="#8ca3a4" stroke-width="2"/>
<polygon points="245,2855 807,2848 807,2858 245,2863" fill="#6c7679"/>
<g fill="#5f696c">
 <rect x="398" y="2862" width="23" height="55"/><rect x="505" y="2862" width="23" height="55"/>
 <rect x="620" y="2860" width="23" height="57"/><rect x="757" y="2860" width="19" height="57"/>
</g>
<g fill="#5c8b31">
 <rect x="264" y="2876" width="96" height="41"/><rect x="375" y="2876" width="107" height="41"/>
 <rect x="486" y="2876" width="115" height="41"/><rect x="624" y="2876" width="118" height="41"/>
</g>
<g fill="#77a449">
 <ellipse cx="312" cy="2876" rx="48" ry="4"/><ellipse cx="428" cy="2876" rx="53" ry="4"/>
 <ellipse cx="543" cy="2876" rx="57" ry="4"/><ellipse cx="683" cy="2876" rx="59" ry="4"/>
</g>
<rect x="321" y="2813" width="39" height="104" fill="#6d777a"/>

<!-- ================= SUSTENTABILIDAD ================= -->
<text x="848" y="2643" font-size="24" class="s" textLength="202" lengthAdjust="spacingAndGlyphs">Sustentabilidad</text>
<circle cx="880" cy="2743" r="31" fill="#808080"/>
<path d="M866,2752 a9,9 0 0 1 2,-17 a12,12 0 0 1 23,-3 a9,9 0 0 1 6,20 z" fill="#fff"/>
<g fill="#fff"><ellipse cx="872" cy="2762" rx="2.5" ry="4"/><ellipse cx="880" cy="2762" rx="2.5" ry="4"/><ellipse cx="888" cy="2762" rx="2.5" ry="4"/></g>
<circle cx="880" cy="2821" r="31" fill="#808080"/>
<circle cx="880" cy="2821" r="9" fill="#fff"/>
<path d="M880,2799 v8 M880,2835 v8 M858,2821 h8 M894,2821 h8 M864,2805 l6,6 M890,2831 l6,6 M896,2805 l-6,6 M864,2837 l6,-6" stroke="#fff" stroke-width="2.5"/>
<circle cx="880" cy="2898" r="31" fill="#808080"/>
<polygon points="885,2876 869,2902 880,2902 873,2921 893,2893 882,2893 890,2876" fill="#fff"/>
<text x="914" y="2726" font-size="19" textLength="209" lengthAdjust="spacingAndGlyphs">Utilizará aguas pluviales</text>
<text x="914" y="2747" font-size="19" textLength="197" lengthAdjust="spacingAndGlyphs">para baños y tareas de</text>
<text x="914" y="2768" font-size="19" textLength="71" lengthAdjust="spacingAndGlyphs">limpieza</text>
<text x="914" y="2803" font-size="19" textLength="226" lengthAdjust="spacingAndGlyphs">Tendrá paneles solares en</text>
<text x="914" y="2825" font-size="19" textLength="188" lengthAdjust="spacingAndGlyphs">el techo para obtener</text>
<text x="914" y="2846" font-size="19" textLength="65" lengthAdjust="spacingAndGlyphs">energía</text>
<text x="914" y="2880" font-size="19" textLength="205" lengthAdjust="spacingAndGlyphs">Almacenarán la energía</text>
<text x="914" y="2902" font-size="19" textLength="215" lengthAdjust="spacingAndGlyphs">de los paneles solares en</text>
<text x="914" y="2923" font-size="19" textLength="215" lengthAdjust="spacingAndGlyphs">baterías para usarlas por</text>
<text x="914" y="2945" font-size="19" textLength="73" lengthAdjust="spacingAndGlyphs">la noche</text>

<!-- ================= LONGITUD ================= -->
<text x="124" y="3005" font-size="24" class="s" textLength="269" lengthAdjust="spacingAndGlyphs">Longitud del sistema</text>
<g font-size="18">
<text x="156" y="3031" class="b" textLength="81" lengthAdjust="spacingAndGlyphs">Terminal</text>
<text x="156" y="3051" class="b" textLength="122" lengthAdjust="spacingAndGlyphs">Indios Verdes</text>
<text x="155" y="3075" class="b o" textLength="61" lengthAdjust="spacingAndGlyphs">Línea 1</text>
<text x="418" y="3031" class="b" textLength="33" lengthAdjust="spacingAndGlyphs">IPN</text>
<text x="658" y="3031" class="b" textLength="94" lengthAdjust="spacingAndGlyphs">La Pastora</text>
<text x="891" y="3031" class="b" textLength="173" lengthAdjust="spacingAndGlyphs">Campos Revolución</text>
<text x="1284" y="3031" class="b" text-anchor="end" textLength="80" lengthAdjust="spacingAndGlyphs">Terminal</text>
<text x="1284" y="3051" class="b" text-anchor="end" textLength="97" lengthAdjust="spacingAndGlyphs">Cuautepec</text>
<text x="1334" y="3031" class="b" textLength="71" lengthAdjust="spacingAndGlyphs">Campos</text>
<text x="1334" y="3051" class="b" textLength="108" lengthAdjust="spacingAndGlyphs">Revolución*</text>
<text x="1434" y="3031" class="b" textLength="102" lengthAdjust="spacingAndGlyphs">Chiquihuite</text>
</g>
<g stroke="#333" stroke-width="1" stroke-dasharray="4,3">
 <line x1="153" y1="3043" x2="153" y2="3118"/>
 <line x1="436" y1="3037" x2="436" y2="3112"/>
 <line x1="704" y1="3045" x2="704" y2="3106"/>
 <line x1="977" y1="3045" x2="977" y2="3096"/>
 <line x1="1288" y1="3057" x2="1288" y2="3102"/>
 <line x1="1520" y1="3037" x2="1520" y2="3092"/>
</g>
<path d="M124,3130 V3159 H649 V3149 H1304 V3120" fill="none" stroke="#b0a623" stroke-width="2"/>
<path d="M1334,3117 V3149 H1536 V3112" fill="none" stroke="#b0a623" stroke-width="2"/>
<path d="M124,3128 L184,3127 L204,3123 L235,3128 L296,3125 L306,3122 L326,3127 L352,3121 L377,3127 L429,3128 L454,3125 L490,3123 L510,3119 L531,3124 L571,3122 L612,3127 L643,3120 L663,3124 L714,3123 L796,3118 L821,3113 L837,3100 L852,3085 L878,3075 L898,3077 L924,3082 L949,3097 L964,3107 L1000,3114 L1051,3115 L1066,3118 L1097,3114 L1112,3118 L1225,3118 L1304,3119" fill="none" stroke="#a89f00" stroke-width="5" stroke-linejoin="round"/>
<path d="M1334,3117 L1360,3114 L1380,3110 L1400,3113 L1420,3108 L1450,3112 L1480,3110 L1505,3107 L1536,3108" fill="none" stroke="#a89f00" stroke-width="5"/>
<g fill="none" stroke="#b0a623" stroke-width="2">
 <path d="M133,3117 Q163,3100 194,3104 Q220,3112 245,3102 Q268,3110 291,3099 Q352,3122 413,3096 Q482,3120 551,3093 Q595,3108 638,3092 Q687,3112 735,3093 Q791,3085 847,3060 Q880,3064 913,3058 Q967,3085 1020,3071 Q1092,3108 1163,3086 Q1200,3108 1240,3098 Q1265,3102 1290,3099"/>
 <path d="M133,3123 Q163,3106 194,3110 Q220,3118 245,3108 Q268,3116 291,3105 Q352,3128 413,3102 Q482,3126 551,3099 Q595,3114 638,3098 Q687,3118 735,3099 Q791,3091 847,3066 Q880,3070 913,3064 Q967,3091 1020,3077 Q1092,3114 1163,3092 Q1200,3114 1240,3104 Q1265,3108 1290,3105"/>
 <path d="M1337,3093 Q1355,3100 1372,3092 Q1392,3100 1413,3082 Q1433,3098 1454,3087 Q1470,3095 1485,3082 Q1505,3098 1526,3086"/>
 <path d="M1337,3099 Q1355,3106 1372,3098 Q1392,3106 1413,3088 Q1433,3104 1454,3093 Q1470,3101 1485,3088 Q1505,3104 1526,3092"/>
</g>
<g stroke="#b0a623" stroke-width="1.5">
 <line x1="194" y1="3104" x2="194" y2="3126"/><line x1="245" y1="3102" x2="245" y2="3127"/>
 <line x1="291" y1="3099" x2="291" y2="3125"/><line x1="413" y1="3096" x2="413" y2="3127"/>
 <line x1="551" y1="3093" x2="551" y2="3122"/><line x1="638" y1="3092" x2="638" y2="3122"/>
 <line x1="735" y1="3093" x2="735" y2="3122"/><line x1="847" y1="3060" x2="847" y2="3088"/>
 <line x1="913" y1="3058" x2="913" y2="3079"/><line x1="1020" y1="3071" x2="1020" y2="3115"/>
 <line x1="1163" y1="3086" x2="1163" y2="3118"/><line x1="1240" y1="3098" x2="1240" y2="3118"/>
 <line x1="1372" y1="3092" x2="1372" y2="3113"/><line x1="1413" y1="3082" x2="1413" y2="3110"/>
 <line x1="1454" y1="3087" x2="1454" y2="3111"/><line x1="1485" y1="3082" x2="1485" y2="3110"/>
</g>
<g fill="#a89f00">
 <rect x="139" y="3108" width="28" height="16"/><rect x="422" y="3108" width="28" height="16"/>
 <rect x="690" y="3100" width="28" height="18"/><rect x="963" y="3090" width="28" height="18"/>
 <rect x="1274" y="3096" width="28" height="18"/><rect x="1338" y="3098" width="28" height="18"/>
 <rect x="1506" y="3092" width="28" height="18"/>
</g>
<text x="1337" y="3142" font-size="14" textLength="150" lengthAdjust="spacingAndGlyphs">*Línea secundaria de L1</text>
<line x1="131" y1="3182" x2="1304" y2="3182" stroke="#e2231a" stroke-width="1.5"/>
<path d="M139,3177 L131,3182 L139,3187 M1296,3177 L1304,3182 L1296,3187" fill="none" stroke="#e2231a" stroke-width="1.5"/>
<line x1="1337" y1="3182" x2="1534" y2="3182" stroke="#e2231a" stroke-width="1.5"/>
<path d="M1345,3177 L1337,3182 L1345,3187 M1526,3177 L1534,3182 L1526,3187" fill="none" stroke="#e2231a" stroke-width="1.5"/>
<text x="732" y="3177" font-size="18" class="b r" text-anchor="middle" textLength="56" lengthAdjust="spacingAndGlyphs">7.7 km</text>
<text x="1441" y="3177" font-size="18" class="b r" text-anchor="middle" textLength="56" lengthAdjust="spacingAndGlyphs">1.7 km</text>
<text x="1526" y="3207" font-size="18" class="b" text-anchor="end" textLength="128" lengthAdjust="spacingAndGlyphs">Longitud total</text>
<text x="1526" y="3227" font-size="17" text-anchor="end" textLength="54" lengthAdjust="spacingAndGlyphs">9.4 km</text>
<text x="131" y="3213" font-size="15" textLength="933" lengthAdjust="spacingAndGlyphs">Fuente: Información del Sistema de Transporte Público Cablebús y datos del Ministerio de Obras Públicas, Servicios y Vivienda de Bolivia</text>
</svg>
</body></html>
